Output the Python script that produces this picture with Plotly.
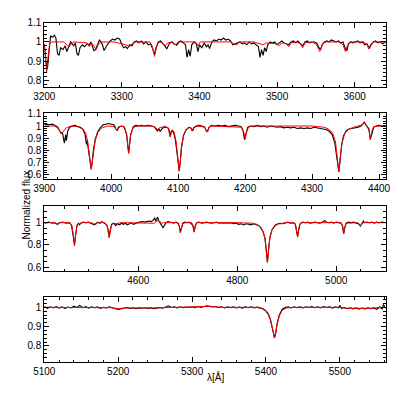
import plotly.graph_objects as go

# ---- panel 1: 3200-3640 A ----
wl1_obs = [3200, 3202, 3204, 3206, 3208, 3211, 3213, 3215, 3217, 3219, 3221, 3224, 3227, 3229, 3232, 3234,
           3236, 3238, 3240, 3242, 3244, 3246, 3249, 3252, 3255, 3258, 3260, 3262, 3264, 3266, 3268, 3271,
           3273, 3275, 3277, 3279, 3282, 3285, 3288, 3291, 3294, 3297, 3300, 3302, 3305, 3307, 3310, 3313,
           3316, 3319, 3322, 3325, 3328, 3331, 3334, 3337, 3340, 3342, 3344, 3347, 3350, 3353, 3356, 3358,
           3361, 3364, 3367, 3370, 3373, 3376, 3379, 3382, 3384, 3386, 3388, 3390, 3393, 3396, 3398, 3400,
           3403, 3406, 3409, 3411, 3413, 3416, 3419, 3422, 3425, 3428, 3431, 3434, 3437, 3440, 3443, 3446,
           3449, 3452, 3455, 3458, 3461, 3464, 3467, 3470, 3473, 3476, 3478, 3480, 3482, 3484, 3486, 3488,
           3491, 3494, 3497, 3500, 3503, 3506, 3509, 3512, 3515, 3518, 3521, 3524, 3527, 3530, 3533, 3536,
           3539, 3542, 3545, 3548, 3551, 3554, 3556, 3558, 3561, 3564, 3567, 3570, 3573, 3576, 3579, 3582,
           3585, 3588, 3590, 3592, 3595, 3598, 3601, 3604, 3607, 3610, 3613, 3616, 3619, 3621, 3624, 3627,
           3630, 3633, 3636, 3640]
fl1_obs = [0.99, 0.90, 0.86, 0.97, 1.03, 1.025, 1.035, 1.02, 0.94, 0.93, 0.97, 0.96, 0.98, 0.95, 0.985, 1.0,
           0.99, 0.98, 0.995, 0.94, 0.93, 0.97, 0.985, 0.975, 0.99, 0.985, 1.0, 0.97, 0.955, 0.96, 0.985, 1.01,
           1.0, 0.985, 0.955, 0.97, 0.99, 1.005, 1.015, 1.01, 1.02, 1.015, 0.99, 0.97, 0.975, 0.965, 0.985, 0.98,
           1.0, 1.005, 0.995, 1.005, 0.99, 1.0, 0.985, 0.99, 0.96, 0.935, 0.97, 1.0, 1.005, 0.99, 0.98, 0.965,
           0.99, 1.0, 0.99, 0.985, 1.0, 1.005, 0.995, 0.985, 0.92, 0.96, 0.925, 0.985, 1.0, 0.99, 0.95, 0.985,
           0.97, 0.995, 0.975, 0.985, 0.965, 1.0, 1.01, 1.005, 1.015, 1.01, 1.02, 1.01, 1.015, 1.005, 0.985, 0.99,
           0.995, 1.0, 0.99, 0.995, 0.985, 1.0, 0.99, 0.995, 0.985, 0.975, 0.92, 0.96, 0.93, 0.97, 0.95, 0.985,
           1.0, 0.995, 1.0, 0.985, 0.995, 1.005, 0.995, 0.99, 0.985, 1.0, 1.005, 0.995, 1.005, 0.99, 0.98, 1.0,
           1.005, 0.995, 1.0, 1.0, 0.995, 0.97, 0.96, 0.985, 1.0, 1.005, 1.0, 1.01, 1.005, 1.0, 1.005, 0.995,
           1.0, 0.965, 0.955, 0.99, 1.0, 0.995, 1.0, 1.005, 0.995, 1.0, 0.985, 0.99, 0.965, 0.985, 1.0, 1.005,
           0.995, 1.0, 0.99, 1.0]
wl1_mod = [3200, 3201, 3203, 3205, 3207, 3209, 3225, 3229, 3232, 3235, 3238, 3255, 3258, 3261, 3264, 3267,
           3270, 3274, 3290, 3300, 3305, 3310, 3313, 3318, 3336, 3339, 3342, 3345, 3348, 3352, 3356, 3359,
           3365, 3371, 3374, 3395, 3398, 3401, 3440, 3444, 3448, 3452, 3470, 3478, 3482, 3486, 3500, 3503,
           3506, 3512, 3515, 3518, 3525, 3530, 3533, 3536, 3545, 3551, 3555, 3559, 3563, 3580, 3585, 3588,
           3591, 3595, 3612, 3616, 3618, 3621, 3625, 3640]
fl1_mod = [0.99, 0.93, 0.84, 0.93, 0.99, 1.0, 1.0, 0.985, 0.975, 0.99, 1.0, 0.995, 0.975, 0.995, 0.975, 0.96,
           0.99, 1.0, 1.0, 0.99, 0.985, 0.975, 0.99, 1.0, 1.0, 0.98, 0.925, 0.98, 1.0, 0.995, 0.98, 0.995,
           1.0, 0.98, 1.0, 1.0, 0.98, 1.0, 1.0, 0.99, 0.985, 1.0, 1.0, 0.99, 0.985, 0.995, 0.99, 0.98,
           0.995, 0.99, 0.975, 0.995, 1.0, 0.99, 0.97, 0.995, 1.0, 0.985, 0.95, 0.99, 1.0, 1.0, 0.985, 0.95,
           0.985, 1.0, 1.0, 0.985, 0.965, 0.99, 1.0, 1.0]

# ---- panel 2: 3900-4410 A ----
wl2_obs = [3900, 3904, 3908, 3912, 3916, 3920, 3923, 3925, 3927, 3929, 3930, 3932, 3933, 3935, 3938, 3942,
           3946, 3950, 3954, 3958, 3961, 3963, 3964, 3965, 3967, 3968.5, 3970, 3971.5, 3973, 3976, 3980, 3984,
           3988, 3992, 3996, 4000, 4004, 4007, 4009, 4011, 4015, 4019, 4023, 4026, 4029, 4033, 4037, 4041,
           4045, 4050, 4055, 4060, 4064, 4067, 4069, 4071, 4073, 4075, 4077, 4080, 4083, 4086, 4088, 4090,
           4093, 4096, 4098, 4100, 4101.5, 4103, 4105, 4108, 4112, 4116, 4119, 4121, 4123, 4127, 4131, 4135,
           4139, 4142, 4144, 4146, 4150, 4155, 4160, 4165, 4170, 4175, 4180, 4185, 4190, 4194, 4197, 4199,
           4201, 4204, 4208, 4213, 4218, 4223, 4228, 4233, 4238, 4243, 4248, 4253, 4258, 4263, 4268, 4273,
           4278, 4283, 4288, 4293, 4298, 4303, 4308, 4313, 4318, 4322, 4326, 4330, 4334, 4337, 4340, 4342,
           4344, 4347, 4351, 4355, 4360, 4365, 4369, 4373, 4376, 4378, 4380, 4383, 4385, 4387, 4389, 4392,
           4396, 4400, 4404, 4410]
fl2_obs = [1.01, 1.015, 1.01, 1.015, 1.005, 0.99, 0.96, 0.94, 0.95, 0.9, 0.86, 0.93, 0.88, 0.96, 0.99, 1.0,
           1.005, 0.995, 0.99, 0.97, 0.93, 0.85, 0.88, 0.84, 0.76, 0.69, 0.65, 0.7, 0.79, 0.89, 0.955, 0.99,
           1.01, 1.015, 1.02, 1.015, 1.01, 0.975, 0.965, 0.99, 1.0, 0.995, 0.93, 0.78, 0.93, 0.995, 1.005, 1.0,
           1.005, 1.0, 1.005, 1.0, 0.995, 0.975, 0.96, 0.98, 0.955, 0.97, 0.985, 0.99, 0.99, 0.98, 0.92, 0.96,
           0.95, 0.88, 0.78, 0.68, 0.635, 0.7, 0.83, 0.925, 0.97, 0.99, 0.985, 0.96, 0.985, 1.0, 1.005, 1.0,
           0.995, 0.96, 0.955, 0.99, 1.005, 1.0, 1.005, 1.0, 1.005, 0.995, 1.0, 1.005, 1.0, 0.995, 0.96, 0.89,
           0.93, 0.99, 1.0, 0.995, 1.005, 0.995, 1.0, 0.99, 1.0, 0.995, 0.99, 0.995, 0.985, 0.99, 0.985, 0.99,
           0.98, 0.985, 0.98, 0.985, 0.98, 0.99, 0.985, 0.98, 0.975, 0.97, 0.955, 0.93, 0.86, 0.74, 0.625, 0.72,
           0.84, 0.92, 0.96, 0.975, 0.98, 0.985, 0.99, 1.0, 1.015, 1.035, 1.01, 0.99, 0.97, 0.89, 0.94, 0.99,
           1.0, 1.005, 1.0, 1.005]
wl2_mod = [3900, 3915, 3920, 3924, 3926, 3929, 3933, 3940, 3950, 3958, 3962, 3965, 3967, 3968.5, 3970, 3971.5,
           3973, 3976, 3980, 3986, 3995, 4004, 4007, 4009, 4011, 4015, 4020, 4023, 4026, 4029, 4033, 4040,
           4060, 4066, 4069, 4072, 4076, 4080, 4085, 4088, 4091, 4094, 4097, 4099, 4100.5, 4101.5, 4103, 4105,
           4108, 4112, 4117, 4120, 4122, 4124, 4130, 4140, 4143, 4146, 4150, 4195, 4198, 4200, 4202, 4205,
           4210, 4300, 4318, 4325, 4331, 4335, 4338, 4340, 4342, 4345, 4349, 4355, 4362, 4370, 4375, 4378,
           4381, 4385, 4387, 4389, 4392, 4400, 4410]
fl2_mod = [1.0, 1.0, 0.985, 0.95, 0.935, 0.96, 0.985, 1.0, 0.995, 0.975, 0.94, 0.87, 0.78, 0.7, 0.645, 0.7,
           0.78, 0.88, 0.95, 0.985, 1.0, 0.995, 0.975, 0.96, 0.985, 1.0, 0.99, 0.93, 0.775, 0.93, 0.99, 1.0,
           1.0, 0.99, 0.97, 0.985, 0.99, 1.0, 0.985, 0.91, 0.97, 0.95, 0.87, 0.75, 0.66, 0.63, 0.7, 0.82,
           0.92, 0.97, 0.99, 0.975, 0.96, 0.99, 1.0, 0.99, 0.95, 0.99, 1.0, 0.99, 0.95, 0.89, 0.95, 0.99,
           1.0, 1.0, 0.99, 0.975, 0.94, 0.87, 0.74, 0.625, 0.74, 0.87, 0.94, 0.975, 0.99, 1.0, 1.01, 1.03,
           1.005, 0.98, 0.89, 0.95, 0.995, 1.0, 1.0]

# ---- panel 3: 4410-5100 A ----
wl3_obs = [4410, 4415, 4420, 4425, 4430, 4434, 4437, 4441, 4446, 4451, 4456, 4461, 4465, 4468, 4471, 4473,
           4476, 4479, 4481, 4484, 4489, 4494, 4499, 4504, 4508, 4511, 4514, 4518, 4522, 4526, 4530, 4534,
           4537, 4539, 4541, 4543, 4546, 4550, 4554, 4558, 4562, 4566, 4570, 4574, 4578, 4582, 4586, 4590,
           4594, 4598, 4603, 4608, 4613, 4618, 4622, 4626, 4630, 4633, 4635, 4637, 4639, 4641, 4644, 4647,
           4650, 4653, 4656, 4660, 4664, 4668, 4672, 4676, 4680, 4683, 4685, 4687, 4690, 4694, 4698, 4702,
           4706, 4710, 4713, 4715, 4718, 4723, 4728, 4733, 4738, 4743, 4748, 4753, 4758, 4763, 4768, 4773,
           4778, 4783, 4788, 4793, 4798, 4803, 4808, 4813, 4818, 4823, 4828, 4833, 4838, 4843, 4847, 4852,
           4856, 4859, 4861, 4863, 4866, 4870, 4876, 4882, 4887, 4892, 4897, 4902, 4907, 4912, 4917, 4920,
           4922, 4924, 4927, 4932, 4937, 4942, 4947, 4952, 4957, 4962, 4967, 4972, 4977, 4980, 4985, 4990,
           4995, 5000, 5005, 5010, 5013, 5015, 5017, 5020, 5025, 5030, 5035, 5040, 5045, 5049, 5051, 5055,
           5057, 5062, 5067, 5072, 5077, 5082, 5087, 5092, 5100]
fl3_obs = [0.995, 1.0, 1.005, 0.995, 1.0, 0.99, 0.985, 1.0, 1.005, 1.0, 0.995, 1.0, 0.975, 0.89, 0.8, 0.88,
           0.975, 0.995, 0.98, 0.995, 1.005, 1.0, 1.005, 0.995, 0.985, 0.98, 0.99, 1.005, 0.995, 1.01, 1.0, 0.99,
           0.975, 0.93, 0.87, 0.93, 0.985, 0.995, 0.975, 0.99, 0.98, 0.995, 0.985, 0.995, 0.98, 0.99, 1.0, 0.985,
           0.995, 1.0, 1.005, 1.01, 1.005, 1.01, 1.015, 1.01, 1.02, 1.045, 1.015, 1.03, 1.05, 1.02, 1.0, 0.985,
           0.955, 0.975, 1.0, 1.01, 1.005, 1.0, 0.995, 1.005, 0.995, 0.965, 0.91, 0.95, 0.995, 1.005, 1.0, 1.005,
           0.995, 0.975, 0.915, 0.97, 1.0, 1.005, 0.995, 1.0, 1.005, 1.0, 0.995, 1.0, 1.005, 0.995, 1.0, 0.995,
           1.0, 0.995, 1.0, 0.99, 0.995, 0.985, 0.99, 0.98, 0.99, 0.985, 0.98, 0.99, 0.98, 0.975, 0.955, 0.92,
           0.86, 0.75, 0.645, 0.75, 0.87, 0.935, 0.975, 0.99, 0.995, 0.99, 1.0, 1.005, 0.995, 1.0, 0.99, 0.93,
           0.875, 0.935, 0.99, 1.005, 1.0, 1.005, 0.995, 1.0, 1.005, 1.0, 0.995, 1.005, 1.02, 1.005, 1.0, 1.005,
           0.995, 1.005, 1.0, 0.995, 0.965, 0.9, 0.95, 0.995, 1.005, 1.0, 1.005, 1.0, 0.99, 0.97, 0.99, 1.015,
           1.0, 1.005, 1.0, 1.005, 0.995, 1.005, 1.0, 1.005, 1.0]
wl3_mod = [4410, 4430, 4436, 4440, 4462, 4466, 4469, 4471, 4473, 4476, 4479, 4481, 4484, 4505, 4510, 4514,
           4518, 4532, 4536, 4539, 4541, 4543, 4546, 4550, 4555, 4565, 4600, 4625, 4632, 4636, 4640, 4644,
           4648, 4652, 4680, 4683, 4685, 4687, 4690, 4695, 4708, 4711, 4713, 4715, 4718, 4800, 4830, 4840,
           4847, 4852, 4856, 4859, 4861, 4863, 4866, 4870, 4876, 4884, 4890, 4895, 4915, 4918, 4920, 4922,
           4924, 4926, 4930, 5010, 5013, 5015, 5017, 5020, 5044, 5047, 5049, 5051, 5055, 5100]
fl3_mod = [1.0, 1.0, 0.99, 1.0, 1.0, 0.97, 0.88, 0.79, 0.88, 0.97, 0.99, 0.985, 1.0, 1.0, 0.99, 0.985,
           1.0, 1.0, 0.98, 0.93, 0.865, 0.93, 0.98, 0.995, 0.99, 1.0, 1.0, 1.0, 0.995, 1.01, 1.02, 1.01,
           0.995, 1.0, 1.0, 0.97, 0.92, 0.95, 0.99, 1.0, 1.0, 0.97, 0.92, 0.97, 1.0, 1.0, 0.995, 0.985,
           0.96, 0.92, 0.86, 0.74, 0.64, 0.74, 0.86, 0.93, 0.97, 0.99, 0.99, 1.0, 1.0, 0.98, 0.93, 0.87,
           0.93, 0.98, 1.0, 1.0, 0.97, 0.9, 0.95, 0.995, 1.0, 0.985, 0.97, 0.99, 1.0, 1.0]

# ---- panel 4: 5100-5562 A ----
wl4_obs = [5100, 5104, 5108, 5112, 5116, 5120, 5124, 5128, 5132, 5136, 5140, 5144, 5148, 5152, 5156, 5160,
           5164, 5168, 5172, 5176, 5180, 5184, 5188, 5192, 5196, 5200, 5204, 5208, 5212, 5216, 5220, 5224,
           5228, 5232, 5236, 5240, 5244, 5248, 5252, 5256, 5260, 5264, 5268, 5272, 5276, 5280, 5284, 5288,
           5292, 5296, 5300, 5304, 5308, 5312, 5316, 5320, 5324, 5328, 5332, 5336, 5340, 5344, 5348, 5352,
           5356, 5360, 5364, 5368, 5372, 5376, 5380, 5384, 5388, 5392, 5396, 5400, 5403, 5406, 5408, 5410,
           5411.5, 5413, 5415, 5418, 5422, 5426, 5430, 5434, 5438, 5442, 5446, 5450, 5454, 5458, 5462, 5466,
           5470, 5474, 5478, 5482, 5486, 5490, 5494, 5498, 5500, 5502, 5506, 5510, 5514, 5518, 5522, 5526,
           5530, 5534, 5538, 5542, 5546, 5550, 5554, 5557, 5559, 5562]
fl4_obs = [1.005, 0.995, 1.003, 0.997, 1.004, 0.996, 1.002, 0.994, 1.001, 0.997, 1.006, 0.999, 1.01, 0.998, 1.004, 0.996,
           1.003, 0.998, 1.002, 0.995, 1.0, 0.997, 1.003, 0.996, 0.993, 0.989, 0.991, 0.995, 0.999, 0.994, 0.998, 0.993,
           0.997, 0.995, 0.998, 0.994, 0.997, 0.993, 0.996, 0.999, 0.995, 1.002, 1.008, 0.999, 1.002, 0.997, 1.003, 0.998,
           1.002, 0.999, 1.003, 0.998, 1.004, 1.0, 1.006, 1.008, 1.005, 1.002, 1.004, 0.999, 1.003, 0.997, 1.002, 0.998,
           1.003, 0.997, 1.001, 0.996, 1.002, 0.998, 1.003, 0.997, 1.001, 0.998, 0.992, 0.98, 0.965, 0.935, 0.9, 0.855,
           0.843, 0.865, 0.915, 0.96, 0.99, 0.999, 1.002, 0.997, 1.003, 0.998, 1.002, 0.997, 1.003, 0.999, 1.004, 0.998,
           1.003, 0.997, 1.004, 0.999, 1.002, 0.996, 1.003, 0.998, 1.01, 0.995, 0.999, 0.993, 0.998, 0.992, 0.997, 0.991,
           0.996, 0.992, 0.998, 0.993, 0.997, 0.99, 1.003, 0.99, 1.015, 0.995]
wl4_mod = [5100, 5150, 5190, 5200, 5210, 5250, 5290, 5315, 5325, 5340, 5390, 5398, 5403, 5406, 5408, 5410,
           5411.5, 5413, 5415, 5418, 5422, 5428, 5440, 5500, 5510, 5540, 5562]
fl4_mod = [1.0, 1.0, 0.998, 0.994, 0.997, 0.997, 1.0, 1.004, 1.005, 1.0, 1.0, 0.99, 0.97, 0.94, 0.9, 0.855,
           0.84, 0.86, 0.91, 0.955, 0.985, 0.997, 1.0, 1.0, 0.995, 0.995, 1.0]

panels = [
    (wl1_obs, fl1_obs, wl1_mod, fl1_mod),
    (wl2_obs, fl2_obs, wl2_mod, fl2_mod),
    (wl3_obs, fl3_obs, wl3_mod, fl3_mod),
    (wl4_obs, fl4_obs, wl4_mod, fl4_mod),
]

# axis settings per panel
xranges = [[3200, 3640], [3900, 4410], [4410, 5100], [5100, 5562]]
yranges = [[0.764, 1.1], [0.567, 1.104], [0.565, 1.15], [0.715, 1.052]]
x_dticks = [100, 100, 200, 100]
x_minor = [20, 20, 50, 20]
y_dticks = [0.1, 0.1, 0.2, 0.1]
y_minor = [0.02, 0.02, 0.05, 0.02]

# panel boxes in pixels (top, bottom) of a 407 px figure
W = 407
x_dom = [44.3 / W, 385.7 / W]
boxes = [(22.7, 87.3), (113.3, 179), (206, 271), (297.3, 362.3)]

fig = go.Figure()
font = dict(family="Liberation Sans, Arial, sans-serif", size=10, color="black")

for i, (wo, fo, wm, fm) in enumerate(panels):
    n = "" if i == 0 else str(i + 1)
    fig.add_trace(go.Scatter(x=wo, y=fo, mode="lines", line=dict(color="black", width=1.1),
                             xaxis="x" + n, yaxis="y" + n, showlegend=False, hoverinfo="skip"))
    fig.add_trace(go.Scatter(x=wm, y=fm, mode="lines", line=dict(color="#ff0000", width=1.0),
                             xaxis="x" + n, yaxis="y" + n, showlegend=False, hoverinfo="skip"))
    top, bot = boxes[i]
    axis_common = dict(showgrid=False, zeroline=False, showline=True, linecolor="black", linewidth=1,
                       mirror="allticks", ticks="inside", tickcolor="black", ticklen=5,
                       tickfont=font, automargin=False)
    fig.update_layout(**{
        "xaxis" + n: dict(axis_common, domain=x_dom, range=xranges[i], dtick=x_dticks[i],
                          anchor="y" + n,
                          minor=dict(dtick=x_minor[i], ticks="inside", ticklen=2.5, tickcolor="black")),
        "yaxis" + n: dict(axis_common, domain=[1 - bot / W, 1 - top / W], range=yranges[i],
                          dtick=y_dticks[i], anchor="x" + n, tick0=0,
                          minor=dict(dtick=y_minor[i], ticks="inside", ticklen=2.5, tickcolor="black")),
    })

fig.add_annotation(text="Normalized flux", xref="paper", yref="paper", x=18 / W, y=1 - 205 / W,
                   textangle=-90, showarrow=False, font=font)
fig.add_annotation(text="λ[Å]", xref="paper", yref="paper", x=215 / W, y=1 - 385 / W,
                   showarrow=False, font=font)

fig.update_layout(width=W, height=W, margin=dict(l=0, r=0, t=0, b=0),
                  paper_bgcolor="white", plot_bgcolor="white")

# drop the default page margin so the figure sits at the window's top-left corner
fig.write_html("out.html", config={"displayModeBar": False},
               post_script="document.body.style.margin='0';document.body.style.overflow='hidden';")
